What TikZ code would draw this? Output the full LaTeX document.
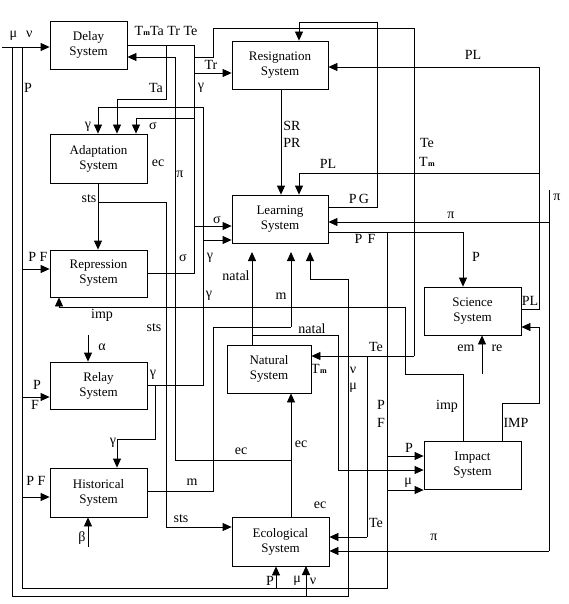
\documentclass[tikz,border=0pt]{standalone}
\usepackage{fontspec}
\setmainfont{Liberation Serif}
\usetikzlibrary{arrows.meta}
\newcommand\boxfont{\fontsize{13}{15}\selectfont}
\newcommand\labfont{\fontsize{14}{16}\selectfont}
\newcommand\Tmsub{T\kern0.3pt{\fontsize{8}{8}\selectfont\bfseries m}}
\begin{document}
\begin{tikzpicture}[x=1pt,y=-1pt,
  sysbox/.style={draw, line width=0.8pt, align=center, font=\boxfont, inner sep=0pt},
  ln/.style={line width=0.8pt},
  arr/.style={ln, -{Triangle[length=9pt,width=8pt]}},
  lab/.style={font=\labfont, inner sep=0pt}]
\useasboundingbox (0,0) rectangle (568,604);
% boxes
\node[sysbox, minimum width=77pt, minimum height=48pt] (delay) at (88.5,45) {Delay\\System};
\node[sysbox, minimum width=96pt, minimum height=48pt] (resig) at (280,65) {Resignation\\System};
\node[sysbox, minimum width=97pt, minimum height=49pt] (adapt) at (98.5,158.5) {Adaptation\\System};
\node[sysbox, minimum width=96pt, minimum height=48pt] (learn) at (280,219) {Learning\\System};
\node[sysbox, minimum width=97pt, minimum height=47pt] (repr) at (98.5,273.5) {Repression\\System};
\node[sysbox, minimum width=97pt, minimum height=47pt] (relay) at (98.5,385.5) {Relay\\System};
\node[sysbox, minimum width=97pt, minimum height=49pt] (hist) at (98.5,492.5) {Historical\\System};
\node[sysbox, minimum width=97pt, minimum height=49pt] (eco) at (280.5,541.5) {Ecological\\System};
\node[sysbox, minimum width=84pt, minimum height=48pt] (natural) at (269,369) {Natural\\System};
\node[sysbox, minimum width=97pt, minimum height=48pt] (science) at (472.5,311) {Science\\System};
\node[sysbox, minimum width=97pt, minimum height=48pt] (impact) at (472.5,465) {Impact\\System};
% free ends
\coordinate (inMN) at (2,47);
\coordinate (inPi) at (549,190);
\coordinate (inEm) at (482,374);
\coordinate (inAl) at (88,335);
\coordinate (inBe) at (88,547);
% mu nu input
\draw[arr] (inMN) -- (delay.west |- 0,47);
\draw[ln] (12,47) -- (12,596) -- (348,596) -- (348,279) -- (310,279);
\draw[arr] (310,279) -- (310,252);
\draw[arr] (306,596) -- (306,566);
% P F from learning
\draw[ln] (learn.east |- 0,232) -- (463,232);
\draw[arr] (463,232) -- (science.north -| 463,0);
\draw[ln] (387,232) -- (387,588) -- (22,588) -- (22,47);
\draw[arr] (22,269) -- (repr.west |- 0,269);
\draw[arr] (22,397) -- (relay.west |- 0,397);
\draw[arr] (22,497) -- (hist.west |- 0,497);
\draw[arr] (276,588) -- (eco.south -| 276,0);
\draw[arr] (387,456) -- (impact.west |- 0,456);
\draw[arr] (387,490) -- (impact.west |- 0,490);
% delay outputs
\draw[ln] (delay.east |- 0,45) -- (194,45) -- (194,273) -- (repr.east |- 0,273);
\draw[ln] (166,45) -- (166,99) -- (117,99);
\draw[arr] (117,99) -- (adapt.north -| 117,0);
\draw[arr] (194,73) -- (resig.west |- 0,73);
\draw[ln] (194,57) -- (213,57) -- (213,28) -- (414,28) -- (414,356);
\draw[arr] (414,356) -- (natural.east |- 0,356);
\draw[ln] (367,356) -- (367,537);
\draw[arr] (367,537) -- (eco.east |- 0,537);
\draw[ln] (194,118) -- (136,118);
\draw[arr] (136,118) -- (adapt.north -| 136,0);
\draw[arr] (194,226) -- (learn.west |- 0,226);
% gamma from relay
\draw[ln] (relay.east |- 0,385) -- (203,385) -- (203,107) -- (98,107);
\draw[arr] (98,107) -- (adapt.north -| 98,0);
\draw[arr] (203,240) -- (learn.west |- 0,240);
\draw[ln] (155,385) -- (155,439) -- (117,439);
\draw[arr] (117,439) -- (hist.north -| 117,0);
% ec
\draw[arr] (eco.north -| 291,0) -- (natural.south -| 291,0);
\draw[ln] (291,460) -- (175,460) -- (175,57);
\draw[arr] (175,57) -- (delay.east |- 0,57);
% resignation -> learning
\draw[arr] (resig.south -| 281,0) -- (learn.north -| 281,0);
% PG
\draw[ln] (learn.east |- 0,207) -- (377,207) -- (377,22) -- (299,22);
\draw[arr] (299,22) -- (resig.north -| 299,0);
% PL
\draw[ln] (science.east |- 0,309) -- (539,309) -- (539,67);
\draw[arr] (539,67) -- (resig.east |- 0,67);
\draw[ln] (539,173) -- (299,173);
\draw[arr] (299,173) -- (learn.north -| 299,0);
% pi
\draw[ln] (inPi) -- (549,551);
\draw[arr] (549,551) -- (eco.east |- 0,551);
\draw[arr] (549,222) -- (learn.east |- 0,222);
% sts
\draw[arr] (adapt.south -| 98,0) -- (repr.north -| 98,0);
\draw[ln] (98,202) -- (166,202) -- (166,527);
\draw[arr] (166,527) -- (eco.west |- 0,527);
% imp
\draw[ln] (impact.north -| 463,0) -- (463,374) -- (405,374) -- (405,307) -- (59,307);
\draw[arr] (59,307) -- (repr.south -| 59,0);
% IMP
\draw[ln] (impact.north -| 502,0) -- (502,403) -- (539,403) -- (539,327);
\draw[arr] (539,327) -- (science.east |- 0,327);
% external inputs
\draw[arr] (inEm) -- (science.south -| 482,0);
\draw[arr] (inAl) -- (relay.north -| 88,0);
\draw[arr] (inBe) -- (hist.south -| 88,0);
% natal
\draw[arr] (natural.north -| 252,0) -- (252,252);
\draw[ln] (252,335) -- (338,335) -- (338,470);
\draw[arr] (338,470) -- (impact.west |- 0,470);
% m
\draw[ln] (hist.east |- 0,491) -- (213,491) -- (213,327) -- (291,327);
\draw[arr] (291,327) -- (291,252);
% labels
\node[lab] at (21,36) {μ\hspace{9pt}ν};
\node[lab] at (28,88) {P};
\node[lab] at (166,31) {\Tmsub Ta Tr Te};
\node[lab] at (156,88) {Ta};
\node[lab] at (201,88) {γ};
\node[lab] at (211,65) {Tr};
\node[lab] at (88,127) {γ};
\node[lab] at (153,126) {σ};
\node[lab] at (158,163) {ec};
\node[lab] at (180,174) {π};
\node[lab] at (292,126) {SR};
\node[lab] at (292,143) {PR};
\node[lab] at (473,55) {PL};
\node[lab] at (427,143) {Te};
\node[lab] at (427,162) {\Tmsub};
\node[lab] at (328,164) {PL};
\node[lab] at (359,199) {P\,G};
\node[lab] at (557,197) {π};
\node[lab] at (451,215) {π};
\node[lab] at (365,239) {P\hspace{5pt}F};
\node[lab] at (476,257) {P};
\node[lab] at (530,301) {PL};
\node[lab] at (89,199) {sts};
\node[lab] at (217,220) {σ};
\node[lab] at (38,257) {P F};
\node[lab] at (183,258) {σ};
\node[lab] at (210,258) {γ};
\node[lab] at (236,276) {natal};
\node[lab] at (209,296) {γ};
\node[lab] at (281,296) {m};
\node[lab] at (102,315) {imp};
\node[lab] at (154,328) {sts};
\node[lab] at (312,329) {natal};
\node[lab] at (376,347) {Te};
\node[lab] at (319,369) {\Tmsub};
\node[lab] at (353,370) {ν};
\node[lab] at (353,388) {μ};
\node[lab] at (102,347) {α};
\node[lab] at (37,385) {P};
\node[lab] at (35,405) {F};
\node[lab] at (153,375) {γ};
\node[lab] at (381,405) {P};
\node[lab] at (381,423) {F};
\node[lab] at (466,348) {em};
\node[lab] at (497,348) {re};
\node[lab] at (447,406) {imp};
\node[lab] at (516,423) {IMP};
\node[lab] at (113,443) {γ};
\node[lab] at (36,481) {P F};
\node[lab] at (241,451) {ec};
\node[lab] at (301,444) {ec};
\node[lab] at (409,448) {P};
\node[lab] at (408,483) {μ};
\node[lab] at (192,482) {m};
\node[lab] at (181,519) {sts};
\node[lab] at (320,505) {ec};
\node[lab] at (376,523) {Te};
\node[lab] at (434,537) {π};
\node[lab] at (82,538) {β};
\node[lab] at (270,581) {P};
\node[lab] at (297,581) {μ};
\node[lab] at (313,581) {ν};
\end{tikzpicture}
\end{document}
